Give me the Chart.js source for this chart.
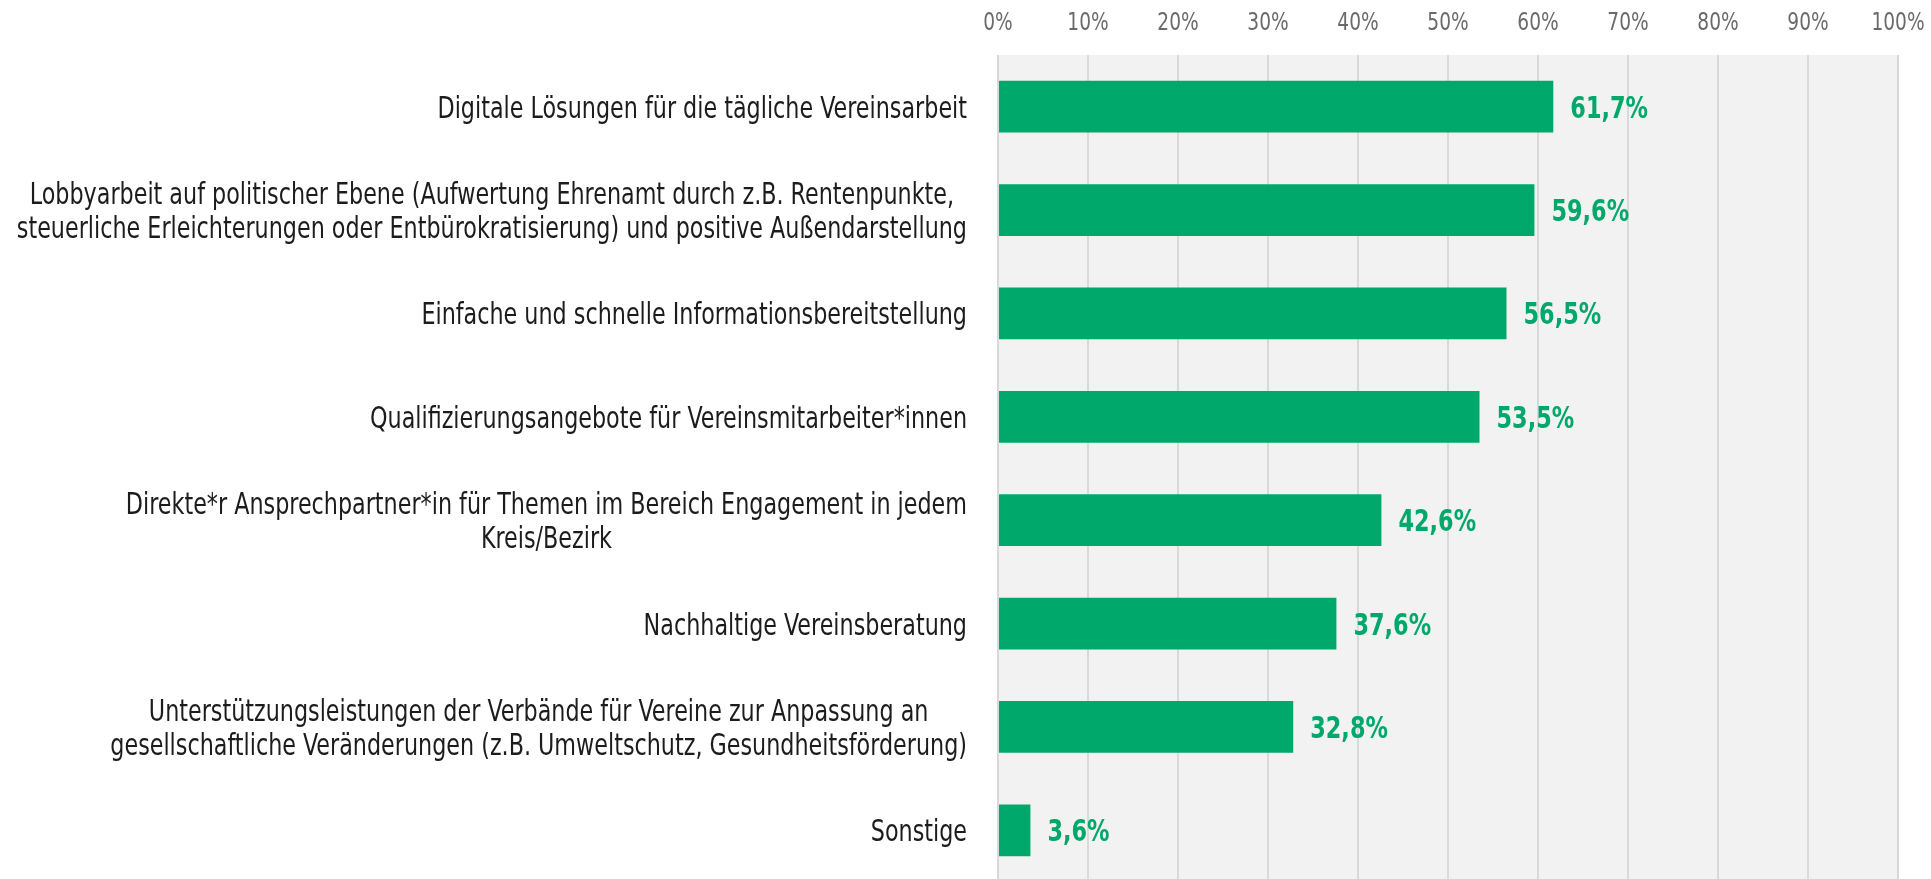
<!DOCTYPE html>
<html>
<head>
<meta charset="utf-8">
<script src="https://cdn.jsdelivr.net/npm/chart.js@4.4.1/dist/chart.umd.min.js"></script>
<style>
  html, body { margin: 0; padding: 0; background: #fff; overflow: hidden; }
  #wrap { width: 1931px; height: 879px; overflow: hidden; }
  #inner { position: relative; width: 1931px; height: 882px; }
</style>
</head>
<body>
<div id="wrap"><div id="inner"><canvas id="needsChart"></canvas></div></div>
<script>
// Kategorien (mehrzeilige Beschriftungen als Array)
const categories = [
  ["Digitale Lösungen für die tägliche Vereinsarbeit"],
  ["Lobbyarbeit auf politischer Ebene (Aufwertung Ehrenamt durch z.B. Rentenpunkte,",
   "steuerliche Erleichterungen oder Entbürokratisierung) und positive Außendarstellung"],
  ["Einfache und schnelle Informationsbereitstellung"],
  ["Qualifizierungsangebote für Vereinsmitarbeiter*innen"],
  ["Direkte*r Ansprechpartner*in für Themen im Bereich Engagement in jedem",
   "Kreis/Bezirk"],
  ["Nachhaltige Vereinsberatung"],
  ["Unterstützungsleistungen der Verbände für Vereine zur Anpassung an",
   "gesellschaftliche Veränderungen (z.B. Umweltschutz, Gesundheitsförderung)"],
  ["Sonstige"]
];
const values = [61.7, 59.6, 56.5, 53.5, 42.6, 37.6, 32.8, 3.6];
const xTickValues = [0, 10, 20, 30, 40, 50, 60, 70, 80, 90, 100];
const xTickLabels = ["0%", "10%", "20%", "30%", "40%", "50%", "60%", "70%", "80%", "90%", "100%"];

const GREEN = '#00a86b';
const FONT = '"DejaVu Sans Condensed", "Liberation Sans Narrow", "Roboto Condensed", "Noto Sans", sans-serif';

// Text schmaler zeichnen (Originalschrift ist sehr schmal)
function squeezed(ctx, txt, x, y, sx) {
  ctx.save();
  ctx.translate(x, y);
  ctx.scale(sx, 1);
  ctx.fillText(txt, 0, 0);
  ctx.restore();
}

// grauer Hintergrund im Plotbereich
const plotBg = {
  id: 'plotBg',
  beforeDraw(chart) {
    const { ctx, chartArea: a } = chart;
    ctx.save();
    ctx.fillStyle = '#f2f2f2';
    ctx.fillRect(a.left, a.top, a.right - a.left, a.bottom - a.top);
    ctx.restore();
  }
};

// Achsenbeschriftung oben (0% ... 100%)
const topTicks = {
  id: 'topTicks',
  afterDraw(chart) {
    const ctx = chart.ctx;
    const x = chart.scales.x;
    ctx.save();
    ctx.font = '300 24px ' + FONT;
    ctx.fillStyle = '#6a6a6a';
    ctx.textAlign = 'center';
    ctx.textBaseline = 'alphabetic';
    xTickValues.forEach((v, i) => {
      squeezed(ctx, xTickLabels[i], x.getPixelForValue(v), 30, 0.86);
    });
    ctx.restore();
  }
};

// Beschriftungen links, Zeilen zentriert, Block rechtsbündig
const categoryLabels = {
  id: 'categoryLabels',
  afterDraw(chart) {
    const ctx = chart.ctx;
    const y = chart.scales.y;
    const lineH = 34;
    const sx = 0.825;
    ctx.save();
    ctx.font = '30px ' + FONT;
    ctx.fillStyle = '#1c1c1c';
    ctx.textAlign = 'center';
    ctx.textBaseline = 'alphabetic';
    categories.forEach((lines, i) => {
      const cy = y.getPixelForValue(i);
      const w = Math.max(...lines.map(l => ctx.measureText(l).width)) * sx;
      const cx = chart.chartArea.left - 31 - w / 2;
      lines.forEach((l, k) => {
        squeezed(ctx, l, cx, cy + 11 + (k - (lines.length - 1) / 2) * lineH, sx);
      });
    });
    ctx.restore();
  }
};

// Werte rechts neben den Balken
const valueLabels = {
  id: 'valueLabels',
  afterDatasetsDraw(chart) {
    const ctx = chart.ctx;
    const meta = chart.getDatasetMeta(0);
    ctx.save();
    ctx.font = 'bold 30px ' + FONT;
    ctx.fillStyle = GREEN;
    ctx.textAlign = 'left';
    ctx.textBaseline = 'alphabetic';
    meta.data.forEach((bar, i) => {
      const txt = values[i].toFixed(1).replace('.', ',') + '%';
      squeezed(ctx, txt, bar.x + 17, bar.y + 11, 0.83);
    });
    ctx.restore();
  }
};

new Chart(document.getElementById('needsChart'), {
  type: 'bar',
  data: {
    labels: categories,
    datasets: [{
      data: values,
      backgroundColor: GREEN,
      borderWidth: 0,
      barPercentage: 0.5,
      categoryPercentage: 1
    }]
  },
  options: {
    indexAxis: 'y',
    responsive: true,
    maintainAspectRatio: false,
    animation: false,
    layout: { padding: { left: 998, right: 33, top: 0, bottom: 0 } },
    plugins: {
      legend: { display: false },
      tooltip: { enabled: false }
    },
    scales: {
      x: {
        position: 'top',
        min: 0,
        max: 100,
        afterFit: (scale) => {
          scale.height = 55;
          scale.paddingLeft = 0;
          scale.paddingRight = 0;
        },
        ticks: { stepSize: 10, display: false },
        grid: { color: '#d9d9d9', lineWidth: 2, drawTicks: false },
        border: { display: false }
      },
      y: {
        display: false
      }
    }
  },
  plugins: [plotBg, topTicks, categoryLabels, valueLabels]
});
</script>
</body>
</html>
